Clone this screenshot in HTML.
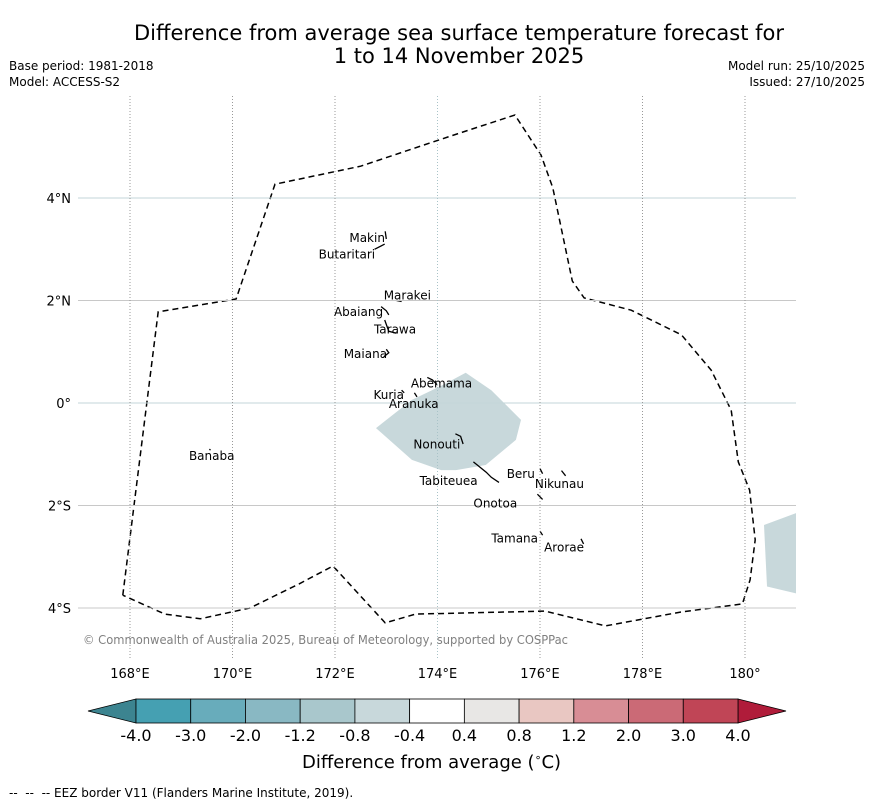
<!DOCTYPE html>
<html><head><meta charset="utf-8"><style>
body{margin:0;background:#fff;font-family:"DejaVu Sans","Liberation Sans",sans-serif;}
#wrap{position:relative;width:873px;height:804px;overflow:hidden;}
.t{position:absolute;white-space:nowrap;}
</style></head><body>
<div id="wrap">
<div class="t" style="left:0;width:918px;top:22px;text-align:center;font-size:21px;line-height:23px;">Difference from average sea surface temperature forecast for<br>1 to 14 November 2025</div>
<div class="t" style="left:9px;top:59px;font-size:12px;">Base period: 1981-2018</div>
<div class="t" style="left:9px;top:75px;font-size:12px;">Model: ACCESS-S2</div>
<div class="t" style="right:8px;top:59px;font-size:12px;text-align:right;">Model run: 25/10/2025</div>
<div class="t" style="right:8px;top:75px;font-size:12px;text-align:right;">Issued: 27/10/2025</div>
<svg id="map" width="873" height="804" style="position:absolute;left:0;top:0"></svg>
<div class="t" style="left:302px;top:751px;font-size:18px;">Difference from average (<sup style="font-size:11px">∘</sup>C)</div>
<div class="t" style="left:9px;top:786px;font-size:12px;">--&nbsp; --&nbsp; -- EEZ border V11 (Flanders Marine Institute, 2019).</div>
</div>
<script>
const lonTicks=[168,170,172,174,176,178,180];
const lonLabels=["168°E","170°E","172°E","174°E","176°E","178°E","180°"];
const latTicks=[4,2,0,-2,-4];
const latLabels=["4°N","2°N","0°","2°S","4°S"];
const eezLon=[167.86,168.55,170.07,170.83,172.5,174.26,175.51,176.02,176.25,176.63,176.86,177.78,178.76,179.34,179.73,179.87,180.09,180.2,180.1,179.95,178.74,177.28,176.1,173.57,172.98,171.96,171.3,170.34,169.37,168.68,167.86];
const eezLat=[-3.75,1.78,2.03,4.27,4.62,5.21,5.62,4.84,4.2,2.38,2.05,1.81,1.33,0.64,-0.14,-1.15,-1.7,-2.67,-3.45,-3.92,-4.08,-4.35,-4.06,-4.12,-4.29,-3.18,-3.53,-4.0,-4.21,-4.12,-3.75];
const anomLon=[172.8,173.5,174.1,174.55,175.05,175.63,175.53,174.94,174.36,174.07,173.5];
const anomLat=[-0.49,0.06,0.35,0.59,0.25,-0.33,-0.72,-1.21,-1.31,-1.31,-1.11];
const anom2Lon=[180.37,181.1,181.1,180.43];
const anom2Lat=[-2.38,-2.11,-3.74,-3.58];
const islandNames=["Makin","Butaritari","Marakei","Abaiang","Tarawa","Maiana","Abemama","Kuria","Aranuka","Nonouti","Tabiteuea","Beru","Nikunau","Onotoa","Tamana","Arorae","Banaba"];
const islandLon=[172.28,171.68,172.95,171.98,172.76,172.17,173.48,172.75,173.05,173.53,173.65,175.35,175.9,174.7,175.05,176.08,169.15];
const islandLat=[3.14,2.82,2.02,1.7,1.36,0.88,0.3,0.08,-0.1,-0.89,-1.6,-1.46,-1.66,-2.04,-2.72,-2.9,-1.11];
const cbLabels=["-4.0","-3.0","-2.0","-1.2","-0.8","-0.4","0.4","0.8","1.2","2.0","3.0","4.0"];
const cbColors=["#45a0b2","#68acbb","#89b8c3","#a9c7cc","#c8d8db","#ffffff","#e8e7e5","#e9c7c2","#d88d95","#cb6a76","#c04556"];
const coastLon=[[172.98,173.0],[172.77,172.97],[173.2,173.3],[172.9,173.0,173.05],[172.97,173.05,173.2],[173.0,173.05,172.95],[173.8,173.9,174.0],[173.3,173.35],[173.55,173.6],[174.35,174.45,174.5],[174.7,174.95,175.05,175.2],[176.0,176.05],[176.42,176.5],[175.95,176.05],[176.0,176.05],[176.8,176.85],[169.55,169.57]];
const coastLat=[[3.35,3.2],[3.0,3.1],[2.0,1.98],[1.88,1.8,1.72],[1.62,1.4,1.36],[1.05,0.98,0.9],[0.5,0.45,0.35],[0.25,0.2],[0.2,0.12],[-0.6,-0.65,-0.8],[-1.15,-1.35,-1.45,-1.55],[-1.28,-1.38],[-1.32,-1.42],[-1.78,-1.88],[-2.5,-2.58],[-2.65,-2.75],[-0.9,-0.92]];
const NS='http://www.w3.org/2000/svg';
const svg=document.getElementById('map');
const X0=78,X1=796,Y0=96,Y1=632;
const xs=l=>130+(l-168)*51.25;
const ys=l=>403-l*51.25;
function mk(tag,at,parent){const e=document.createElementNS(NS,tag);for(const k in at)e.setAttribute(k,at[k]);(parent||svg).appendChild(e);return e;}
const defs=mk('defs',{});const cp=mk('clipPath',{id:'cp'},defs);mk('rect',{x:X0,y:Y0,width:X1-X0,height:Y1-Y0},cp);
const g=mk('g',{'clip-path':'url(#cp)'});
function poly(lons,lats){return lons.map((l,i)=>xs(l).toFixed(1)+','+ys(lats[i]).toFixed(1)).join(' ');}
let a=mk('polygon',{points:poly(anomLon,anomLat),fill:'#c8d8db'},g);


a=mk('polygon',{points:poly(anom2Lon,anom2Lat),fill:'#c8d8db'},g);


latTicks.forEach((t,i)=>{
 const y=ys(t);
 let l=mk('line',{x1:X0,x2:X1,y1:y,y2:y,stroke:(t==0||t==4)?'#c3d6d9':'#c8c8c8','stroke-width':1});
 
 
 let tx=mk('text',{x:71,y:y+5,'text-anchor':'end','font-size':13,'font-family':'DejaVu Sans, sans-serif'});
 tx.textContent=latLabels[i];
 
 
});
lonTicks.forEach((t,i)=>{
 const x=xs(t);
 let l=mk('line',{x1:x,x2:x,y1:Y0,y2:Y1+28,stroke:t==174?'#a9c3c8':'#999','stroke-width':1,'stroke-dasharray':'1,2'});
 
 
 let tx=mk('text',{x:x,y:678,'text-anchor':'middle','font-size':13,'font-family':'DejaVu Sans, sans-serif'});
 tx.textContent=lonLabels[i];
 
 
});
let e=mk('polyline',{points:poly(eezLon,eezLat),fill:'none',stroke:'#000','stroke-width':1.5,'stroke-dasharray':'6,4'},g);


coastLon.forEach((cl,i)=>{
 let p=mk('polyline',{points:poly(cl,coastLat[i]),fill:'none',stroke:'#000','stroke-width':1.3},g);
 
 
});
islandNames.forEach((n,i)=>{
 let tx=mk('text',{x:xs(islandLon[i]),y:ys(islandLat[i]),'font-size':12,'font-family':'DejaVu Sans, sans-serif'});
 tx.textContent=n;
 
 
});
let c=mk('text',{x:83,y:644,'font-size':12,fill:'#808080','font-family':'DejaVu Sans, sans-serif',textLength:485,lengthAdjust:'spacingAndGlyphs'});
c.textContent='© Commonwealth of Australia 2025, Bureau of Meteorology, supported by COSPPac';


const CB0=136,CB1=738,CBy=699,CBh=24,sw=(CB1-CB0)/cbColors.length;
let tri=mk('polygon',{points:`${CB0},${CBy} ${CB0},${CBy+CBh} 88,${CBy+CBh/2}`,fill:'#3c8490',stroke:'#000','stroke-width':0.8});


tri=mk('polygon',{points:`${CB1},${CBy} ${CB1},${CBy+CBh} 786,${CBy+CBh/2}`,fill:'#b01c3a',stroke:'#000','stroke-width':0.8});


cbColors.forEach((col,i)=>{
 let r=mk('rect',{x:CB0+i*sw,y:CBy,width:sw,height:CBh,fill:col,stroke:'#000','stroke-width':0.8});
 
 
});
cbLabels.forEach((lab,i)=>{
 let tx=mk('text',{x:CB0+i*sw,y:741,'text-anchor':'middle','font-size':16,'font-family':'DejaVu Sans, sans-serif'});
 tx.textContent=lab;
 
 
});
</script>
</body></html>
